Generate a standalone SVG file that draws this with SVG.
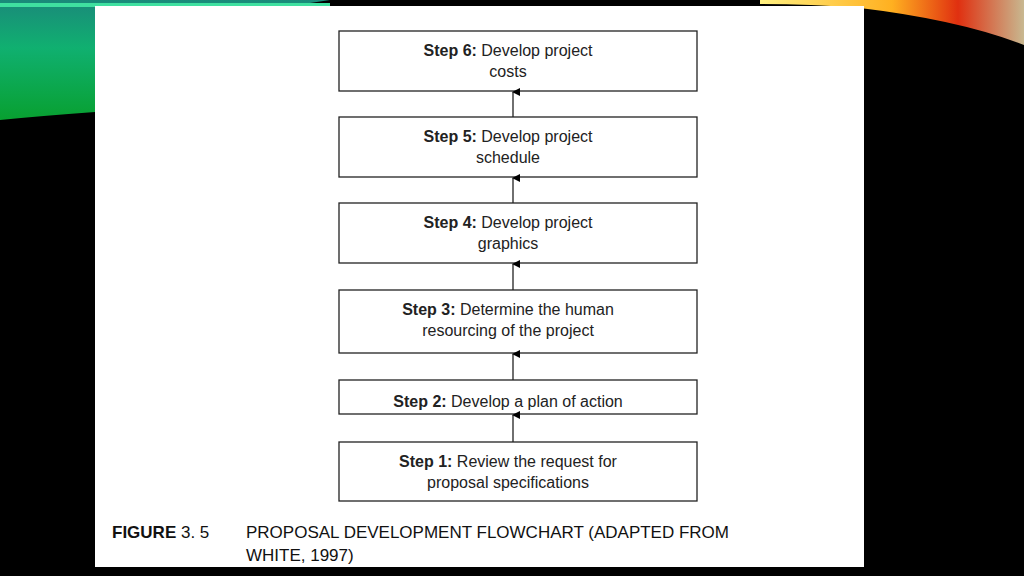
<svg xmlns="http://www.w3.org/2000/svg" width="1024" height="576" viewBox="0 0 1024 576">
<defs>
<linearGradient id="g1" x1="0" y1="0" x2="0" y2="1"><stop offset="0" stop-color="#1a8a7a"/><stop offset="0.4" stop-color="#10b070"/><stop offset="1" stop-color="#08a030"/></linearGradient>
<linearGradient id="g2" x1="0" y1="0" x2="1" y2="0"><stop offset="0" stop-color="#fff080"/><stop offset="0.5" stop-color="#ffb020"/><stop offset="0.75" stop-color="#e03010"/><stop offset="1" stop-color="#c8b890"/></linearGradient>
<marker id="ah" markerWidth="8" markerHeight="8" refX="4" refY="1" orient="auto-start-reverse" markerUnits="userSpaceOnUse" viewBox="0 0 8 8"><path d="M0,8 L4,0 L8,8 Z" fill="#000"/></marker>
<style>
.box{fill:#fff;stroke:#222;stroke-width:1.3}
.t{font-family:"Liberation Sans",Arial,sans-serif;font-size:16px;fill:#222;text-anchor:middle}
.c{font-family:"Liberation Sans",Arial,sans-serif;font-size:17px;fill:#111}
.con line{stroke:#222;stroke-width:1.3;marker-end:url(#ah)}
</style>
</defs>
<rect width="1024" height="576" fill="#000"/>
<path d="M0,0 H330 Q200,20 95,30 V112 Q40,116 0,120 Z" fill="url(#g1)"/>
<path d="M0,5 H330" stroke="#3fe0a0" stroke-width="4"/>
<path d="M760,0 H1024 V45 Q960,20 860,8 Q810,4 760,4 Z" fill="url(#g2)"/>
<rect x="95" y="6" width="769" height="561" fill="#fff"/>
<g id="n6"><rect class="box" x="339" y="31" width="358" height="60"/><text class="t" x="508" y="56"><tspan font-weight="bold">Step 6:</tspan>  Develop project</text><text class="t" x="508" y="77">costs</text></g>
<g id="n5"><rect class="box" x="339" y="117" width="358" height="60"/><text class="t" x="508" y="142"><tspan font-weight="bold">Step 5:</tspan>  Develop project</text><text class="t" x="508" y="163">schedule</text></g>
<g id="n4"><rect class="box" x="339" y="203" width="358" height="60"/><text class="t" x="508" y="228"><tspan font-weight="bold">Step 4:</tspan>  Develop project</text><text class="t" x="508" y="249">graphics</text></g>
<g id="n3"><rect class="box" x="339" y="290" width="358" height="63"/><text class="t" x="508" y="315"><tspan font-weight="bold">Step 3:</tspan>  Determine the human</text><text class="t" x="508" y="336">resourcing of the project</text></g>
<g id="n2"><rect class="box" x="339" y="380" width="358" height="34"/><text class="t" x="508" y="407"><tspan font-weight="bold">Step 2:</tspan>  Develop a plan of action</text></g>
<g id="n1"><rect class="box" x="339" y="442" width="358" height="59"/><text class="t" x="508" y="467"><tspan font-weight="bold">Step 1:</tspan>  Review the request for</text><text class="t" x="508" y="488">proposal specifications</text></g>
<g class="con">
<line x1="513" y1="442" x2="513" y2="415"/>
<line x1="513" y1="380" x2="513" y2="354"/>
<line x1="513" y1="290" x2="513" y2="264"/>
<line x1="513" y1="203" x2="513" y2="178"/>
<line x1="513" y1="117" x2="513" y2="92"/>
</g>
<text class="c" x="112" y="538"><tspan font-weight="bold">FIGURE</tspan> 3. 5</text>
<text class="c" x="246" y="538">PROPOSAL DEVELOPMENT FLOWCHART (ADAPTED FROM</text>
<text class="c" x="246" y="561">WHITE, 1997)</text>
</svg>
